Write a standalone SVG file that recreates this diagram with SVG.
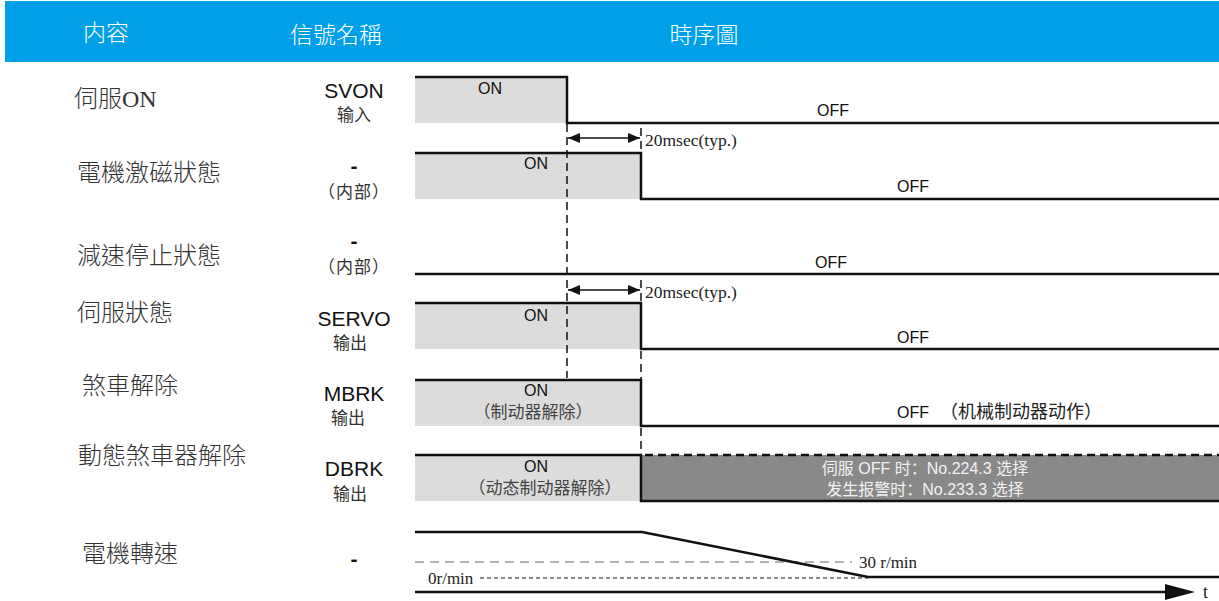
<svg xmlns="http://www.w3.org/2000/svg" width="1219" height="601" viewBox="0 0 1219 601">
<defs>
<style>
.hdr{font-family:"Noto Sans CJK TC","Noto Sans CJK SC",sans-serif;font-size:23px;fill:#ffffff;font-weight:300}
.lab{font-family:"Liberation Serif","Noto Sans CJK TC",serif;font-size:24px;fill:#333;font-weight:300}
.sig{font-family:"Liberation Sans",Arial,sans-serif;font-size:21px;fill:#111;text-anchor:middle}
.sub{font-family:"Noto Sans CJK SC","Noto Sans CJK TC",sans-serif;font-size:16px;fill:#333;text-anchor:middle}
.st{font-family:"Liberation Sans",Arial,sans-serif;font-size:16px;fill:#111}
.mid{text-anchor:middle}
.cjk{font-family:"Liberation Sans","Noto Sans CJK SC",sans-serif;font-size:17px;fill:#444}
.ser{font-family:"Liberation Serif","Noto Sans CJK SC",serif;font-size:17px;fill:#222}
.wt{font-family:"Liberation Sans","Noto Sans CJK SC",sans-serif;font-size:16px;fill:#f2f2f2;text-anchor:middle}
.sigline{fill:none;stroke:#111;stroke-width:2.5}
.vdash{fill:none;stroke:#111;stroke-width:1.5;stroke-dasharray:8 5}
.light{fill:#dcdcdc}
.dark{fill:#898989}
</style>
<marker id="ah" viewBox="0 0 12 10" refX="12" refY="5" markerWidth="12" markerHeight="10" markerUnits="userSpaceOnUse" orient="auto-start-reverse">
<path d="M0,0 L12,5 L0,10 z" fill="#111"/>
</marker>
</defs>

<g id="header">
<rect x="5" y="1" width="1214" height="61" fill="#00a0e9"/>
<text class="hdr" x="106" y="41" text-anchor="middle">内容</text>
<text class="hdr" x="336" y="43" text-anchor="middle">信號名稱</text>
<text class="hdr" x="704" y="43" text-anchor="middle">時序圖</text>
</g>

<g id="labels">
<text class="lab" x="74" y="107">伺服ON</text>
<text class="lab" x="77" y="181">電機激磁狀態</text>
<text class="lab" x="77" y="264">減速停止狀態</text>
<text class="lab" x="77" y="321">伺服狀態</text>
<text class="lab" x="82" y="394">煞車解除</text>
<text class="lab" x="78" y="464">動態煞車器解除</text>
<text class="lab" x="82" y="562">電機轉速</text>
</g>

<g id="signal-names">
<text class="sig" x="354" y="97.5">SVON</text>
<text class="sub" x="354" y="121" style="font-size:17px">输入</text>
<text class="sig" x="354" y="173" style="font-weight:bold">-</text>
<text class="sub" x="354" y="198" style="font-size:17px;letter-spacing:1px">（内部）</text>
<text class="sig" x="354" y="248" style="font-weight:bold">-</text>
<text class="sub" x="354" y="273" style="font-size:17px;letter-spacing:1px">（内部）</text>
<text class="sig" x="354" y="325.5">SERVO</text>
<text class="sub" x="350" y="348.5" style="font-size:17px">输出</text>
<text class="sig" x="354" y="400.5">MBRK</text>
<text class="sub" x="348" y="423.5" style="font-size:17px">输出</text>
<text class="sig" x="354" y="475.5">DBRK</text>
<text class="sub" x="350" y="499.5" style="font-size:17px">输出</text>
<text class="sig" x="354" y="566" style="font-weight:bold">-</text>
</g>

<g id="svon">
<rect class="light" x="415" y="77" width="152" height="46"/>
<path class="sigline" d="M415,77 H567 V123 H1219"/>
<text class="st mid" x="490" y="94">ON</text>
<text class="st mid" x="833" y="116">OFF</text>
</g>

<g id="excitation">
<rect class="light" x="415" y="153" width="226" height="46"/>
<path class="sigline" d="M415,153 H641 V199 H1219"/>
<text class="st mid" x="536" y="169">ON</text>
<text class="st mid" x="913" y="192">OFF</text>
</g>

<g id="decel">
<path class="sigline" d="M415,274 H1219"/>
<text class="st mid" x="831" y="268">OFF</text>
</g>

<g id="servo">
<rect class="light" x="415" y="303" width="226" height="46"/>
<path class="sigline" d="M415,303 H641 V349 H1219"/>
<text class="st mid" x="536" y="321">ON</text>
<text class="st mid" x="913" y="343">OFF</text>
</g>

<g id="mbrk">
<rect class="light" x="415" y="380" width="226" height="46"/>
<path class="sigline" d="M415,380 H641 V426 H1219"/>
<text class="st mid" x="536" y="396">ON</text>
<text class="cjk mid" x="533" y="418">（制动器解除）</text>
<text class="st" x="897" y="418">OFF</text>
<text class="cjk" x="940" y="418" style="font-size:18px;fill:#222">（机械制动器动作）</text>
</g>

<g id="dbrk">
<rect class="light" x="415" y="455" width="226" height="46"/>
<rect class="dark" x="641" y="455" width="578" height="46"/>
<path class="sigline" d="M415,455 H641 V501 H1219"/>
<path fill="none" stroke="#111" stroke-width="2.5" stroke-dasharray="8 5" d="M645,455 H1219"/>
<text class="st mid" x="536" y="472">ON</text>
<text class="cjk mid" x="545" y="494">（动态制动器解除）</text>
<text class="wt" x="925" y="474">伺服 OFF 时：No.224.3 选择</text>
<text class="wt" x="925" y="495">发生报警时：No.233.3 选择</text>
</g>

<g id="speed">
<path fill="none" stroke="#999" stroke-width="1.5" stroke-dasharray="9 6" d="M415,562 H852"/>
<path fill="none" stroke="#111" stroke-width="1.2" stroke-dasharray="4 3" d="M480,578 H868"/>
<path class="sigline" d="M415,532 H642 L868,577 H1219"/>
<text class="ser" x="859" y="568">30 r/min</text>
<text class="ser" x="428" y="584">0r/min</text>
<path fill="none" stroke="#111" stroke-width="2.5" d="M415,592 H1170"/>
<path d="M1165,584 L1195,592 L1165,600 z" fill="#111"/>
<text class="ser" x="1203" y="598" style="font-size:18px">t</text>
</g>

<g id="connectors">
<path class="vdash" d="M567,124 V378"/>
<path class="vdash" d="M641,128 V153"/>
<path class="vdash" d="M641,280 V303"/>
<path class="vdash" d="M641,351 V380"/>
<path class="vdash" d="M641,428 V455"/>
<path fill="none" stroke="#111" stroke-width="1.5" marker-start="url(#ah)" marker-end="url(#ah)" d="M568,138 H640"/>
<path fill="none" stroke="#111" stroke-width="1.5" marker-start="url(#ah)" marker-end="url(#ah)" d="M568,290 H640"/>
<text class="ser" x="645" y="146" style="font-size:17.5px">20msec(typ.)</text>
<text class="ser" x="645" y="298" style="font-size:17.5px">20msec(typ.)</text>
</g>
</svg>
